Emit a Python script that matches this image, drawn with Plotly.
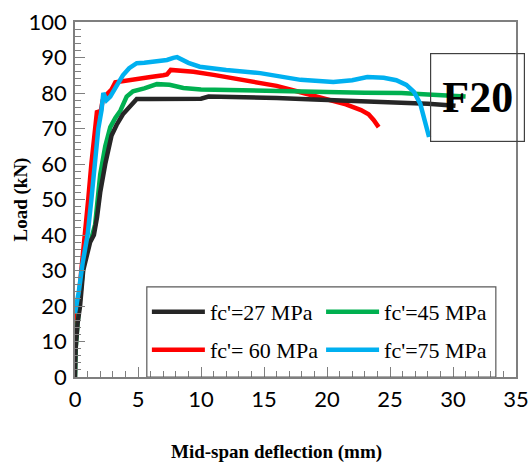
import plotly.graph_objects as go

# Load–deflection curves for specimen F20 at four concrete strengths
defl_27 = [0, 0.05, 0.2, 0.4, 0.65, 1.0, 1.2, 1.5, 1.75, 2.0, 2.4, 2.9, 3.3, 3.8, 4.5, 4.9,
           6, 8, 10, 10.6, 13, 16, 19, 22, 25, 28, 30.2]
load_27 = [0, 8, 15, 20, 30, 36, 38, 40, 45, 52, 60, 68, 71, 74, 77, 78.3,
           78.3, 78.3, 78.4, 79, 78.9, 78.6, 78.2, 77.9, 77.6, 77.0, 76.4]

defl_45 = [0, 0.05, 0.2, 0.4, 0.65, 1.0, 1.3, 1.6, 2.0, 2.4, 2.8, 3.2, 3.6, 4.1, 4.6, 5.5,
           6.5, 7.5, 8.6, 10, 12, 14.7, 17.3, 20, 23, 25.9, 28, 31]
load_45 = [0, 8, 15, 21, 31, 37, 39, 43, 57, 65, 70.4, 73, 75, 79, 80.5, 81.3,
           82.5, 82.3, 81.4, 81.0, 80.8, 80.6, 80.5, 80.3, 80.1, 80.0, 79.6, 79.0]

defl_60 = [0, 0.3, 0.5, 0.8, 1.05, 1.3, 1.6, 1.75, 2.0, 2.2, 2.5, 2.9, 3.2, 4, 5, 6,
           7.0, 7.3, 7.6, 8.5, 9.4, 11, 13, 14.7, 16, 17.9, 19, 20.5, 21.5, 22.7, 23.3, 23.7, 24.1]
load_60 = [15, 22, 30, 40, 50, 60, 70, 75, 74, 78, 79.5, 81, 83, 83.5, 84, 84.5,
           85, 85.2, 86.5, 86.3, 86, 85.1, 83.9, 82.8, 82.0, 80.2, 79.2, 77.7, 76.8, 75.2, 74, 72.4, 70.4]

defl_75 = [0, 0.3, 0.6, 1.0, 1.3, 1.6, 1.85, 2.1, 2.25, 2.5, 2.8, 3.3, 3.8, 4.3, 4.9, 5.5,
           6.2, 7.3, 7.8, 8.1, 9.0, 9.9, 12, 14.7, 17.9, 20.5, 22, 23.2, 24.5, 25.5, 26.3,
           26.9, 27.4, 27.7, 28.1]
load_75 = [18, 24, 32, 40, 50, 60, 70, 75, 80, 78, 79, 82, 85, 87, 88.4, 88.5,
           88.7, 89.3, 89.9, 90.1, 88.5, 87.4, 86.5, 85.6, 83.7, 83.1, 83.6, 84.5, 84.3, 83.6, 82.3,
           80.3, 77, 73.2, 67.6]

# (label, x, y, colour, legend id) in drawing order
series = [
    ("fc'= 60 MPa", defl_60, load_60, "#ff0000", "legend3"),
    ("fc'=45 MPa", defl_45, load_45, "#00b050", "legend2"),
    ("fc'=27 MPa", defl_27, load_27, "#262626", "legend"),
    ("fc'=75 MPa", defl_75, load_75, "#00b0f0", "legend4"),
]

fig = go.Figure()
for name, xs, ys, color, lg in series:
    fig.add_trace(go.Scatter(
        x=xs, y=ys, mode="lines", name=name, legend=lg, showlegend=True,
        line=dict(color=color, width=4.5),
    ))

serif = "Liberation Serif"
axis_grey = "#7f7f7f"

legend_style = dict(
    orientation="v", xanchor="left", yanchor="middle",
    font=dict(family=serif, size=22, color="#000"),
    bgcolor="rgba(0,0,0,0)", itemwidth=53,
)
col1, col2 = 0.163, 0.558
row1, row2 = 0.183, 0.076

fig.update_layout(
    width=528, height=463,
    margin=dict(l=75, r=12, t=22, b=86, autoexpand=False),
    showlegend=True,
    plot_bgcolor="white", paper_bgcolor="white",
    legend=dict(x=col1, y=row1, **legend_style),
    legend2=dict(x=col2, y=row1, **legend_style),
    legend3=dict(x=col1, y=row2, **legend_style),
    legend4=dict(x=col2, y=row2, **legend_style),
    xaxis=dict(
        range=[0, 35], dtick=5, showgrid=False, zeroline=False,
        showline=True, linecolor=axis_grey, linewidth=1.5, mirror=True,
        ticks="inside", ticklen=10, tickcolor=axis_grey,
        minor=dict(dtick=1, ticks="inside", ticklen=6, tickcolor=axis_grey),
        tickfont=dict(family="Lato", size=22, color="#000"),
        ticklabelstandoff=2, ticklabeloverflow="allow",
    ),
    yaxis=dict(
        range=[0, 100], dtick=10, showgrid=False, zeroline=False,
        showline=True, linecolor=axis_grey, linewidth=1.5, mirror=True,
        ticks="inside", ticklen=10, tickcolor=axis_grey,
        minor=dict(dtick=2, ticks="inside", ticklen=6, tickcolor=axis_grey),
        tickfont=dict(family="Lato", size=22, color="#000"),
        ticklabelstandoff=2, ticklabeloverflow="allow",
    ),
)

# Axis titles
fig.add_annotation(
    xref="paper", yref="paper", x=0.458, y=-0.211, xanchor="center", yanchor="middle",
    text="<b>Mid-span deflection (mm)</b>", showarrow=False,
    font=dict(family=serif, size=19, color="#000"),
)
fig.add_annotation(
    xref="paper", yref="paper", x=-0.1247, y=0.5, xanchor="center", yanchor="middle",
    text="<b>Load (kN)</b>", showarrow=False, textangle=-90,
    font=dict(family=serif, size=19, color="#000"),
)

# Frame around the legend block
fig.add_shape(type="rect", xref="x", yref="y", x0=5.7, x1=33.4, y0=0, y1=25.4,
              line=dict(color="#595959", width=1.2), fillcolor="rgba(0,0,0,0)")

# Specimen label, anchored in data space
fig.add_annotation(
    xref="x", yref="y", x=31.94, y=78.7, xanchor="center", yanchor="middle",
    text="<b>F20</b>", showarrow=False,
    font=dict(family=serif, size=44, color="#000"),
    width=93, height=87, bordercolor="#404040", borderwidth=1.2, borderpad=0,
)

fig.write_html("out.html")
